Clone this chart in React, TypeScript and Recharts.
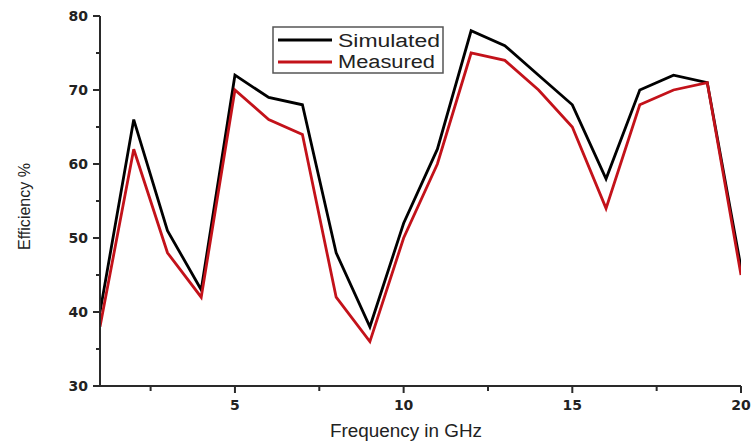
import React from 'react';
import { LineChart, Line, XAxis, YAxis, Customized } from 'recharts';

const frequencies = [1, 2, 3, 4, 5, 6, 7, 8, 9, 10, 11, 12, 13, 14, 15, 16, 17, 18, 19, 20];
const simulated = [40, 66, 51, 43, 72, 69, 68, 48, 38, 52, 62, 78, 76, 72, 68, 58, 70, 72, 71, 46];
const measured = [38, 62, 48, 42, 70, 66, 64, 42, 36, 50, 60, 75, 74, 70, 65, 54, 68, 70, 71, 45];
const xTicks = [2.5, 5, 7.5, 10, 12.5, 15, 17.5, 20];
const yTicks = [30, 35, 40, 45, 50, 55, 60, 65, 70, 75, 80];

const data = frequencies.map((f, i) => ({ f, simulated: simulated[i], measured: measured[i] }));

const RED = '#c3121a';
const AXIS = '#2a2a2a';
const SANS = '"Liberation Sans", Arial, sans-serif';

const XTick = (props: any) => {
  const { x, y, payload } = props;
  const v = payload.value;
  const major = Number.isInteger(v) && v % 5 === 0;
  return (
    <g>
      <line x1={x} x2={x} y1={y} y2={y + (major ? 7 : 5)} stroke={AXIS} strokeWidth={2} />
      {major && (
        <text x={x} y={y + 24} textAnchor="middle" fontFamily='"DejaVu Sans", sans-serif' fontWeight="bold" fontSize={14} fill="#222">
          {v}
        </text>
      )}
    </g>
  );
};

const YTick = (props: any) => {
  const { x, y, payload } = props;
  const v = payload.value;
  const major = v % 10 === 0;
  return (
    <g>
      <line x1={x - (major ? 7 : 4)} x2={x} y1={y} y2={y} stroke={AXIS} strokeWidth={2} />
      {major && (
        <text x={x - 12} y={y + 5} textAnchor="end" fontFamily='"DejaVu Sans", sans-serif' fontWeight="bold" fontSize={14} fill="#222">
          {v}
        </text>
      )}
    </g>
  );
};

const Overlay = () => (
  <g>
    <text x={330} y={437} fontFamily={SANS} fontSize={18} fill="#222" textLength={152} lengthAdjust="spacingAndGlyphs">
      Frequency in GHz
    </text>
    <text
      x={0}
      y={0}
      transform="translate(30,250) rotate(-90)"
      fontFamily={SANS}
      fontSize={16}
      fill="#222"
      textLength={87}
      lengthAdjust="spacingAndGlyphs"
    >
      Efficiency %
    </text>
    <rect x={273} y={27} width={170} height={46} fill="#fff" stroke="#555" strokeWidth={1.5} />
    <line x1={278} x2={332} y1={40} y2={40} stroke="#000" strokeWidth={2.8} />
    <line x1={278} x2={332} y1={62} y2={62} stroke={RED} strokeWidth={2.8} />
    <text x={338} y={47} fontFamily={SANS} fontSize={18} fill="#222" textLength={102} lengthAdjust="spacingAndGlyphs">
      Simulated
    </text>
    <text x={338} y={68} fontFamily={SANS} fontSize={18} fill="#222" textLength={97} lengthAdjust="spacingAndGlyphs">
      Measured
    </text>
  </g>
);

export default function App() {
  return (
    <div style={{ position: 'absolute', left: 0, top: 0, width: 752, height: 447, background: '#fff' }}>
      <LineChart width={752} height={447} data={data} margin={{ top: 16, right: 11, left: 0, bottom: 0 }}>
        <XAxis
          type="number"
          dataKey="f"
          domain={[1, 20]}
          ticks={xTicks}
          tick={<XTick />}
          tickLine={false}
          tickSize={0}
          tickMargin={0}
          height={61}
          axisLine={{ stroke: AXIS, strokeWidth: 2 }}
          allowDataOverflow
        />
        <YAxis
          type="number"
          domain={[30, 80]}
          ticks={yTicks}
          tick={<YTick />}
          tickLine={false}
          tickSize={0}
          tickMargin={0}
          width={100}
          axisLine={{ stroke: AXIS, strokeWidth: 2 }}
          allowDataOverflow
        />
        <Line type="linear" dataKey="simulated" stroke="#000" strokeWidth={2.8} dot={false} isAnimationActive={false} />
        <Line type="linear" dataKey="measured" stroke={RED} strokeWidth={2.8} dot={false} isAnimationActive={false} />
        <Customized component={Overlay} />
      </LineChart>
    </div>
  );
}
